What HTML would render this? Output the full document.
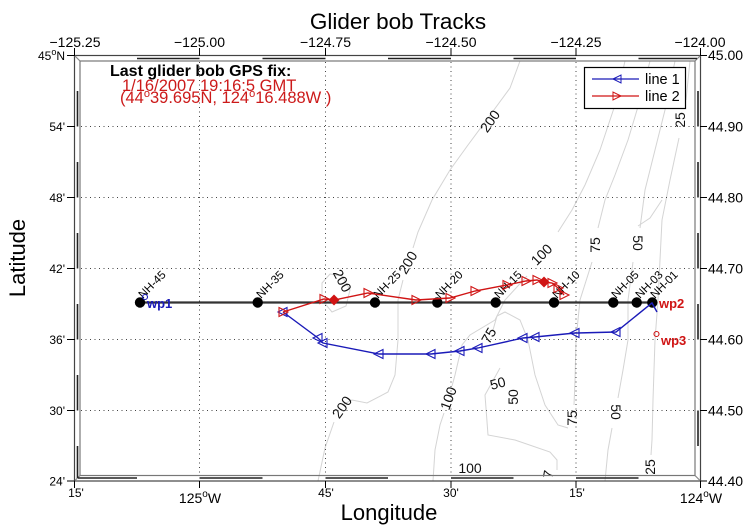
<!DOCTYPE html>
<html><head><meta charset="utf-8"><style>
html,body{margin:0;padding:0;background:#fff;}
svg{display:block;font-family:"Liberation Sans",Arial,sans-serif;}
</style></head><body>
<svg width="750" height="529" viewBox="0 0 750 529" xmlns="http://www.w3.org/2000/svg">
<rect width="750" height="529" fill="#fff"/>
<!-- title -->
<text x="398" y="29" font-size="22.5" text-anchor="middle">Glider bob Tracks</text>

<!-- contours -->
<g fill="none" stroke="#d4d4d4" stroke-width="1">
<polyline points="520,61 510,88 488,118 468,145 450,170 432,200 418,232 413,248"/>
<polyline points="403,280 398,300 398,340 395,375 388,392 367,403 352,400 344,404"/>
<polyline points="334,422 325,448 318,481"/>
<polygon points="322,283 330,274 342,276 350,290 346,306 332,312 322,300"/>
<polyline points="625,61 615,105 600,150 585,185 572,210 558,232"/>
<polyline points="527,276 505,300 495,320 470,335 462,345 455,375 452,386"/>
<polyline points="444,413 440,425 435,450 433,481"/>
<polyline points="650,61 640,100 628,140 615,175 605,200 598,228"/>
<polyline points="592,262 580,300 576,340 575,380 574,405"/>
<polyline points="568,428 558,425 545,405 535,375 528,340 520,320 505,312 497,316 493,330"/>
<polyline points="675,61 665,110 655,150 645,190 640,228"/>
<polyline points="633,262 628,300 628,340 623,370 618,398"/>
<polyline points="612,428 608,450 605,481"/>
<polyline points="690,61 686,100"/>
<polyline points="679,138 670,180 662,220 660,260 658,300 655,340 653,400 652,440 651,455"/>
<polyline points="500,368 485,395 488,435 515,440 550,452 557,460 557,470"/>
<polyline points="662,200 650,218 638,226"/>
</g>
<g font-size="14" fill="#111">
<text transform="translate(494,124) rotate(-55)" text-anchor="middle">200</text>
<text transform="translate(412,265) rotate(-60)" text-anchor="middle">200</text>
<text transform="translate(338,283) rotate(62)" text-anchor="middle">200</text>
<text transform="translate(346,410) rotate(-55)" text-anchor="middle">200</text>
<text transform="translate(545,258) rotate(-45)" text-anchor="middle">100</text>
<text transform="translate(453,400) rotate(-70)" text-anchor="middle">100</text>
<text x="470" y="473" text-anchor="middle">100</text>
<text transform="translate(600,245) rotate(-90)" text-anchor="middle">75</text>
<text transform="translate(493,338) rotate(-60)" text-anchor="middle">75</text>
<text transform="translate(577,418) rotate(-90)" text-anchor="middle">75</text>
<text transform="translate(633,243) rotate(90)" text-anchor="middle">50</text>
<text transform="translate(611,412) rotate(90)" text-anchor="middle">50</text>
<text transform="translate(499,388) rotate(-15)" text-anchor="middle">50</text>
<text transform="translate(518,397) rotate(-90)" text-anchor="middle">50</text>
<text transform="translate(685,120) rotate(-90)" text-anchor="middle">25</text>
<text transform="translate(655,467) rotate(-90)" text-anchor="middle">25</text>
<text transform="translate(553,475) rotate(-80)" text-anchor="middle">7</text>
</g>

<!-- grid -->
<g stroke="#444" stroke-width="1" stroke-dasharray="1 3.5">
<line x1="199.5" y1="62" x2="199.5" y2="474"/>
<line x1="325.5" y1="62" x2="325.5" y2="474"/>
<line x1="451" y1="62" x2="451" y2="474"/>
<line x1="576" y1="62" x2="576" y2="474"/>
<line x1="81" y1="126.5" x2="694" y2="126.5"/>
<line x1="81" y1="197.5" x2="694" y2="197.5"/>
<line x1="81" y1="268.5" x2="694" y2="268.5"/>
<line x1="81" y1="339.5" x2="694" y2="339.5"/>
<line x1="81" y1="410.5" x2="694" y2="410.5"/>
</g>

<!-- fancy frame -->
<g fill="none" stroke-width="1.2">
<rect x="74.5" y="55.5" width="626" height="425.5" stroke="#444"/>
<rect x="80" y="61" width="615" height="414.5" stroke="#777"/>
<line x1="74.5" y1="55.5" x2="80" y2="61" stroke="#888"/>
<line x1="700.5" y1="55.5" x2="695" y2="61" stroke="#888"/>
<line x1="74.5" y1="481" x2="80" y2="475.5" stroke="#888"/>
<line x1="700.5" y1="481" x2="695" y2="475.5" stroke="#888"/>
</g>
<g stroke="#222" stroke-width="1.6">
<!-- top -->
<line x1="137" y1="58.5" x2="199.5" y2="58.5"/>
<line x1="262.5" y1="58.5" x2="325.5" y2="58.5"/>
<line x1="388" y1="58.5" x2="451" y2="58.5"/>
<line x1="513.5" y1="58.5" x2="576" y2="58.5"/>
<line x1="638.5" y1="58.5" x2="697" y2="58.5"/>
<!-- bottom -->
<line x1="78" y1="478" x2="137" y2="478"/>
<line x1="199.5" y1="478" x2="262.5" y2="478"/>
<line x1="325.5" y1="478" x2="388" y2="478"/>
<line x1="451" y1="478" x2="513.5" y2="478"/>
<line x1="576" y1="478" x2="638.5" y2="478"/>
<!-- left -->
<line x1="77.5" y1="91" x2="77.5" y2="126.5"/>
<line x1="77.5" y1="162" x2="77.5" y2="197.5"/>
<line x1="77.5" y1="233" x2="77.5" y2="268.5"/>
<line x1="77.5" y1="304" x2="77.5" y2="339.5"/>
<line x1="77.5" y1="375" x2="77.5" y2="410.5"/>
<line x1="77.5" y1="446" x2="77.5" y2="478"/>
<!-- right -->
<line x1="698" y1="91" x2="698" y2="126.5"/>
<line x1="698" y1="162" x2="698" y2="197.5"/>
<line x1="698" y1="233" x2="698" y2="268.5"/>
<line x1="698" y1="304" x2="698" y2="339.5"/>
<line x1="698" y1="410.5" x2="698" y2="446"/>
</g>
<!-- ticks -->
<g stroke="#000" stroke-width="1">
<line x1="74.5" y1="48" x2="74.5" y2="56"/>
<line x1="199.5" y1="48" x2="199.5" y2="56"/>
<line x1="325.5" y1="48" x2="325.5" y2="56"/>
<line x1="451" y1="48" x2="451" y2="56"/>
<line x1="576" y1="48" x2="576" y2="56"/>
<line x1="700.5" y1="48" x2="700.5" y2="56"/>
<line x1="74.5" y1="481" x2="74.5" y2="488"/>
<line x1="199.5" y1="481" x2="199.5" y2="488"/>
<line x1="325.5" y1="481" x2="325.5" y2="488"/>
<line x1="451" y1="481" x2="451" y2="488"/>
<line x1="576" y1="481" x2="576" y2="488"/>
<line x1="700.5" y1="481" x2="700.5" y2="488"/>
<line x1="67" y1="55.5" x2="75" y2="55.5"/>
<line x1="67" y1="126.5" x2="75" y2="126.5"/>
<line x1="67" y1="197.5" x2="75" y2="197.5"/>
<line x1="67" y1="268.5" x2="75" y2="268.5"/>
<line x1="67" y1="339.5" x2="75" y2="339.5"/>
<line x1="67" y1="410.5" x2="75" y2="410.5"/>
<line x1="67" y1="481" x2="75" y2="481"/>
<line x1="700" y1="55.5" x2="707" y2="55.5"/>
<line x1="700" y1="126.5" x2="707" y2="126.5"/>
<line x1="700" y1="197.5" x2="707" y2="197.5"/>
<line x1="700" y1="268.5" x2="707" y2="268.5"/>
<line x1="700" y1="339.5" x2="707" y2="339.5"/>
<line x1="700" y1="410.5" x2="707" y2="410.5"/>
<line x1="700" y1="481" x2="707" y2="481"/>
</g>

<!-- axis labels -->
<g font-size="14" text-anchor="middle">
<text x="75" y="47">−125.25</text>
<text x="199.5" y="47">−125.00</text>
<text x="325.5" y="47">−124.75</text>
<text x="451" y="47">−124.50</text>
<text x="576" y="47">−124.25</text>
<text x="700" y="47">−124.00</text>
</g>
<g font-size="14">
<text x="708" y="60">45.00</text>
<text x="708" y="131.5">44.90</text>
<text x="708" y="202.5">44.80</text>
<text x="708" y="273.5">44.70</text>
<text x="708" y="344.5">44.60</text>
<text x="708" y="415.5">44.50</text>
<text x="708" y="486">44.40</text>
</g>
<g font-size="12" text-anchor="end">
<text x="65" y="60">45<tspan font-size="9" dy="-5">o</tspan><tspan dy="5">N</tspan></text>
<text x="65" y="131">54'</text>
<text x="65" y="202">48'</text>
<text x="65" y="273">42'</text>
<text x="65" y="344">36'</text>
<text x="65" y="415">30'</text>
<text x="65" y="485.5">24'</text>
</g>
<g font-size="12" text-anchor="middle">
<text x="76" y="497">15'</text>
<text x="326" y="497">45'</text>
<text x="451" y="497">30'</text>
<text x="577" y="497">15'</text>
</g>
<g font-size="14" text-anchor="middle">
<text x="200" y="503">125<tspan font-size="10" dy="-6">o</tspan><tspan dy="6">W</tspan></text>
<text x="701" y="503">124<tspan font-size="10" dy="-6">o</tspan><tspan dy="6">W</tspan></text>
</g>
<text x="389" y="520" font-size="22" text-anchor="middle">Longitude</text>
<text transform="translate(25,258) rotate(-90)" font-size="22" text-anchor="middle">Latitude</text>

<!-- info text -->
<text x="110" y="76" font-size="16" font-weight="bold">Last glider bob GPS fix:</text>
<text x="122" y="91" font-size="16.5" fill="#cc1a1a">1/16/2007 19:16:5 GMT</text>
<text x="120" y="103" font-size="16.5" fill="#cc1a1a">(44<tspan font-size="11" dy="-6">o</tspan><tspan dy="6">39.695N, 124</tspan><tspan font-size="11" dy="-6">o</tspan><tspan dy="6">16.488W )</tspan></text>

<!-- station line -->
<line x1="140" y1="302.5" x2="653" y2="302.5" stroke="#333" stroke-width="2.2"/>
<g fill="#000">
<circle cx="140" cy="302.5" r="5.2"/>
<circle cx="257.7" cy="302.5" r="5.2"/>
<circle cx="375" cy="302.5" r="5.2"/>
<circle cx="437.3" cy="302.5" r="5.2"/>
<circle cx="495.7" cy="302.5" r="5.2"/>
<circle cx="554" cy="302.5" r="5.2"/>
<circle cx="613.3" cy="302.5" r="5.2"/>
<circle cx="636.7" cy="302.5" r="5.2"/>
<circle cx="652.3" cy="302.5" r="5.2"/>
</g>
<g font-size="11.5" fill="#000">
<text transform="translate(143,299) rotate(-45)">NH-45</text>
<text transform="translate(261,299) rotate(-45)">NH-35</text>
<text transform="translate(378,299) rotate(-45)">NH-25</text>
<text transform="translate(440,299) rotate(-45)">NH-20</text>
<text transform="translate(499,299) rotate(-45)">NH-15</text>
<text transform="translate(557,299) rotate(-45)">NH-10</text>
<text transform="translate(616,299) rotate(-45)">NH-05</text>
<text transform="translate(640,299) rotate(-45)">NH-03</text>
<text transform="translate(655,299) rotate(-45)">NH-01</text>
</g>

<!-- blue track (line 1) -->
<g fill="none" stroke="#1a1ab8" stroke-width="1.4">
<polyline points="283,312 318,338 323,343 379,354 431,354 460,351 478,348 523,338 535,337 575,333 577,333 616,332 652,303 657,312"/>
</g>
<g fill="none" stroke="#1a1ab8" stroke-width="1.1">
<polygon points="313,338 322,333.5 322,342.5"/>
<polygon points="318,343 327,338.5 327,347.5"/>
<polygon points="374,354 383,349.5 383,358.5"/>
<polygon points="426,354 435,349.5 435,358.5"/>
<polygon points="455,351 464,346.5 464,355.5"/>
<polygon points="473,348 482,343.5 482,352.5"/>
<polygon points="518,338 527,333.5 527,342.5"/>
<polygon points="530,337 539,332.5 539,341.5"/>
<polygon points="570,333 579,328.5 579,337.5"/>
<polygon points="611,332 620,327.5 620,336.5"/>
<polygon points="278,312 287,307.5 287,316.5"/>
<circle cx="145" cy="297" r="2.5"/>
</g>
<text x="147" y="308" font-size="13" font-weight="bold" fill="#1a1ab8">wp1</text>

<!-- red track (line 2) -->
<g fill="none" stroke="#d01414" stroke-width="1.4">
<polyline points="283,312 324,299 334,300 368,293 416,300 450,298 475,291 507,285 526,281 537,280 544,282 552,283 558,288 564,295"/>
</g>
<g fill="none" stroke="#d01414" stroke-width="1.1">
<polygon points="288,312 279,307.5 279,316.5"/>
<polygon points="329,299 320,294.5 320,303.5"/>
<polygon points="373,293 364,288.5 364,297.5"/>
<polygon points="421,300 412,295.5 412,304.5"/>
<polygon points="455,298 446,293.5 446,302.5"/>
<polygon points="480,291 471,286.5 471,295.5"/>
<polygon points="512,285 503,280.5 503,289.5"/>
<polygon points="531,281 522,276.5 522,285.5"/>
<polygon points="542,280 533,275.5 533,284.5"/>
<polygon points="557,283 548,278.5 548,287.5"/>
<polygon points="563,288 554,283.5 554,292.5"/>
<polygon points="569,295 560,290.5 560,299.5"/>
<circle cx="656.5" cy="334" r="2.5"/>
</g>
<g fill="#d01414">
<polygon points="334,294.5 339.5,300 334,305.5 328.5,300"/>
<polygon points="544,276.5 549.5,282 544,287.5 538.5,282"/>
</g>
<g font-size="13" font-weight="bold" fill="#d01414">
<text x="659" y="308">wp2</text>
<text x="661" y="345">wp3</text>
</g>

<!-- legend -->
<rect x="584.5" y="67.5" width="101" height="41" fill="#fff" stroke="#000" stroke-width="1.2"/>
<line x1="592" y1="79" x2="639" y2="79" stroke="#1a1ab8" stroke-width="1.3"/>
<polygon points="613,79 621,75 621,83" fill="none" stroke="#1a1ab8"/>
<line x1="592" y1="96" x2="639" y2="96" stroke="#d01414" stroke-width="1.3"/>
<polygon points="621,96 613,92 613,100" fill="none" stroke="#d01414"/>
<text x="645" y="84" font-size="14.5">line 1</text>
<text x="645" y="101" font-size="14.5">line 2</text>
</svg>
</body></html>
